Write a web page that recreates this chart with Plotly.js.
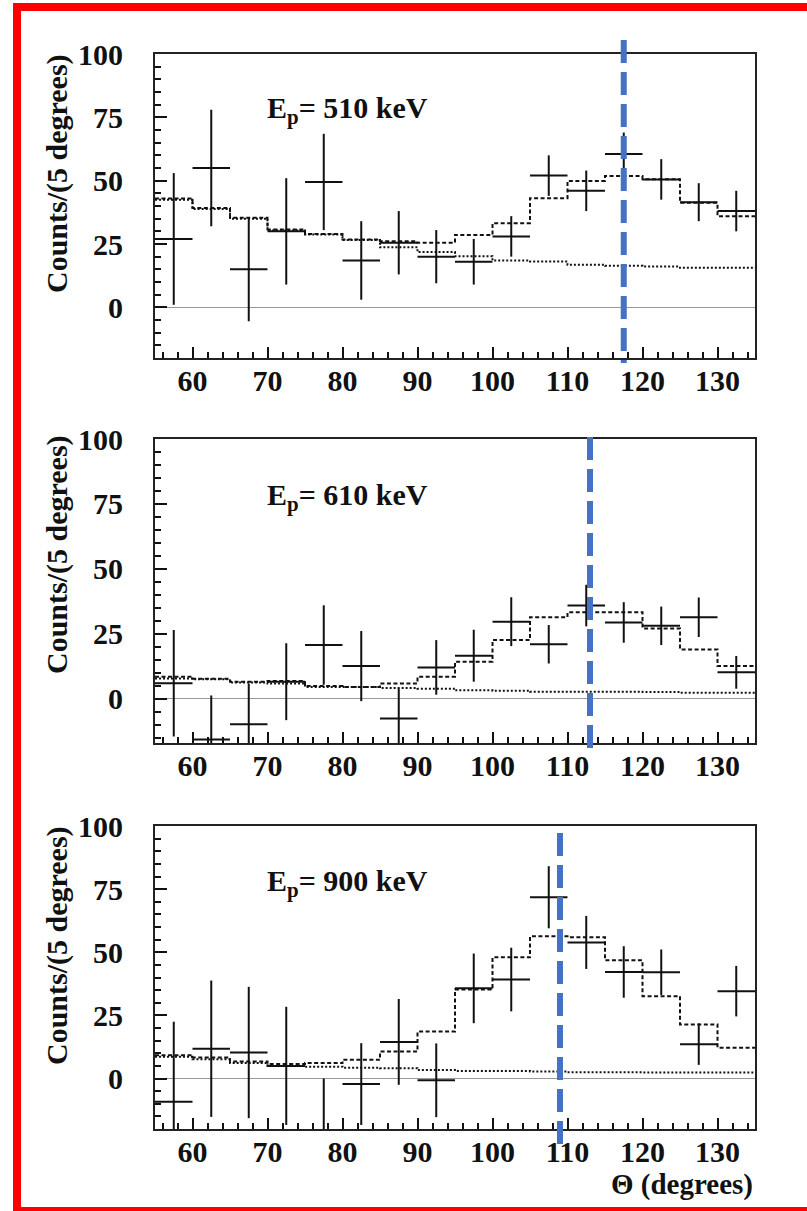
<!DOCTYPE html>
<html>
<head>
<meta charset="utf-8">
<script src="https://cdn.plot.ly/plotly-3.0.1.min.js"></script>
<style>
  html, body { margin: 0; padding: 0; background: #fff; }
  #chart { width: 807px; height: 1211px; }
</style>
</head>
<body>
<div id="chart"></div>
<script>
// ---- Data ----
const thetaCenters = [57.5, 62.5, 67.5, 72.5, 77.5, 82.5, 87.5, 92.5, 97.5, 102.5, 107.5, 112.5, 117.5, 122.5, 127.5, 132.5];
const binHalfWidth = 2.5;

const counts510 = [27, 55, 15, 30, 49.5, 18.5, 25.5, 20, 18, 28, 52, 46, 60.5, 50.5, 41.5, 38];
const err510    = [26, 23, 20.5, 21, 19, 15.5, 12.5, 10.5, 9, 8, 8, 8, 8.5, 8, 7.5, 8];
const total510  = [43, 39.2, 35.4, 30.7, 29, 26.8, 26.1, 25.5, 28.6, 33.2, 43.1, 49.9, 51.8, 50.6, 41.3, 36];
const bkg510    = [42.5, 38.8, 35, 30.3, 28.8, 26.6, 23.7, 21.8, 20.2, 18.5, 18.1, 16.8, 16.4, 16.1, 15.6, 15.6];

const counts610 = [6, -15.7, -9.8, 6.6, 20.7, 12.6, -7.6, 12.1, 16.6, 29.7, 21, 35.9, 29.4, 28.1, 31.4, 10.2];
const err610    = [20.5, 17, 15.7, 14.8, 15.3, 13.5, 11.6, 10.5, 10, 9.4, 7.4, 8, 7.8, 7.4, 7.6, 6.3];
const total610  = [8.5, 7.7, 6.6, 6.9, 4.9, 4.6, 5.9, 8.5, 14.3, 22.6, 31.4, 33.3, 33.3, 27.1, 19, 12.6];
const bkg610    = [7.8, 7.5, 6.3, 5.9, 4.6, 4.6, 4.2, 3.9, 3.3, 3.1, 2.7, 2.7, 2.7, 2.6, 2.3, 2.3];

const counts900 = [-9.2, 11.8, 10.3, 5, -22, -2.2, 14.5, -0.7, 35.7, 39.2, 71.8, 53.9, 42.2, 42.1, 13.6, 34.6];
const err900    = [31.7, 27, 26, 23.4, 22, 16.2, 17, 14.6, 13.8, 12.6, 12.3, 10.5, 10.2, 9, 8.2, 10];
const total900  = [9.2, 8.3, 6.7, 5.7, 6.1, 7.4, 10.7, 18.6, 35.3, 48, 56.3, 55.9, 46.8, 32.6, 21.4, 12.2];
const bkg900    = [8.6, 7.6, 6.1, 5, 4.7, 4.3, 4.1, 3.4, 3, 3, 2.8, 2.5, 2.5, 2.4, 2.4, 2.4];

const panelLabels = ['E<sub>p</sub>= 510 keV', 'E<sub>p</sub>= 610 keV', 'E<sub>p</sub>= 900 keV'];
const markerAngles = [117.5, 113, 109];
const yRanges = [[-20, 100.01], [-17, 100.01], [-20, 100.01]];
const yTitle = 'Counts/(5 degrees)';
const xTitle = 'Θ (degrees)';

// ---- Build ----
const FONT = 'Liberation Serif, Times New Roman, serif';
const INK = '#111';
const edges = thetaCenters.map(c => c - binHalfWidth).concat([thetaCenters[thetaCenters.length - 1] + binHalfWidth]);
const stepY = arr => arr.concat([arr[arr.length - 1]]);

const panels = [
  {counts: counts510, err: err510, total: total510, bkg: bkg510},
  {counts: counts610, err: err610, total: total610, bkg: bkg610},
  {counts: counts900, err: err900, total: total900, bkg: bkg900}
];

const traces = [];
panels.forEach((p, i) => {
  const xa = i === 0 ? 'x' : 'x' + (i + 1);
  const ya = i === 0 ? 'y' : 'y' + (i + 1);
  traces.push({
    x: edges, y: stepY(p.bkg), xaxis: xa, yaxis: ya, mode: 'lines',
    line: {shape: 'hv', color: INK, width: 2, dash: '2px,2px'}, hoverinfo: 'skip', showlegend: false
  });
  traces.push({
    x: edges, y: stepY(p.total), xaxis: xa, yaxis: ya, mode: 'lines',
    line: {shape: 'hv', color: INK, width: 2, dash: '4px,2.5px'}, hoverinfo: 'skip', showlegend: false
  });
  traces.push({
    x: thetaCenters, y: p.counts, xaxis: xa, yaxis: ya, mode: 'markers',
    marker: {size: 1, color: INK},
    error_x: {type: 'constant', value: binHalfWidth, thickness: 2, width: 0, color: INK},
    error_y: {type: 'data', array: p.err, thickness: 2, width: 0, color: INK},
    showlegend: false
  });
});

// Layout geometry (pixels -> paper)
const W = 807, H = 1211;
const mL = 155, mR = 52, mT = 54, mB = 82;
const plotW = W - mL - mR, plotH = H - mT - mB;
const py = pix => (H - mB - pix) / plotH;   // pixel row -> paper y
const px = pix => (pix - mL) / plotW;       // pixel col -> paper x

const panelPix = [[54, 358], [439, 743], [826, 1129]];
const bluePix = [[40, 363], [437, 750], [833, 1145]];
const titleCenterPix = [174, 555, 946];
const labelPix = [110, 497, 883];

const layout = {
  width: W, height: H,
  margin: {l: mL, r: mR, t: mT, b: mB, pad: 0},
  paper_bgcolor: '#fff', plot_bgcolor: '#fff',
  showlegend: false,
  font: {family: FONT, color: INK, size: 30, weight: 'bold'},
  shapes: [], annotations: []
};

panelPix.forEach((pp, i) => {
  const suf = i === 0 ? '' : String(i + 1);
  layout['xaxis' + suf] = {
    domain: [0, 1], anchor: 'y' + suf, range: [55, 135],
    tick0: 0, dtick: 10, ticks: 'inside', ticklen: 11, tickwidth: 2, tickcolor: INK,
    minor: {tick0: 0, dtick: 2, ticks: 'inside', ticklen: 6, tickwidth: 2, tickcolor: INK, showgrid: false},
    showline: true, mirror: true, linecolor: '#222', linewidth: 2,
    showgrid: false, zeroline: false,
    tickfont: {family: FONT, size: 30, weight: 'bold', color: INK},
    ticklabelstandoff: -5
  };
  layout['yaxis' + suf] = {
    domain: [py(pp[1]), py(pp[0])], anchor: 'x' + suf, range: yRanges[i],
    tick0: 0, dtick: 25, ticks: 'inside', ticklen: 12, tickwidth: 2, tickcolor: INK,
    minor: {tick0: 0, dtick: 5, ticks: 'inside', ticklen: 6, tickwidth: 2, tickcolor: INK, showgrid: false},
    showline: true, mirror: true, linecolor: '#222', linewidth: 2,
    showgrid: false, zeroline: true, zerolinecolor: '#999', zerolinewidth: 1,
    tickfont: {family: FONT, size: 30, weight: 'bold', color: INK},
    ticklabelstandoff: 24
  };
  // blue dashed marker line
  layout.shapes.push({
    type: 'line', xref: 'x' + suf, yref: 'paper',
    x0: markerAngles[i], x1: markerAngles[i], y0: py(bluePix[i][0]), y1: py(bluePix[i][1]),
    line: {color: '#4472C4', width: 6, dash: '23px,9px'}, layer: 'above'
  });
  // y-axis title
  layout.annotations.push({
    xref: 'paper', yref: 'paper', x: px(57), y: py(titleCenterPix[i]),
    xanchor: 'center', yanchor: 'middle', textangle: -90, showarrow: false,
    text: yTitle, font: {family: FONT, size: 30, weight: 'bold', color: INK}
  });
  // energy label
  layout.annotations.push({
    xref: 'x' + suf, yref: 'paper', x: 69.7, y: py(labelPix[i]),
    xanchor: 'left', yanchor: 'middle', showarrow: false,
    text: panelLabels[i], font: {family: FONT, size: 30, weight: 'bold', color: INK}
  });
});

// x-axis title (bottom panel only)
layout.annotations.push({
  xref: 'paper', yref: 'paper', x: 1, y: py(1184),
  xanchor: 'right', yanchor: 'middle', showarrow: false,
  text: xTitle, font: {family: FONT, size: 29, weight: 'bold', color: INK}
});

// red frame around the figure
const red = '#ff0000';
layout.shapes.push(
  {type: 'rect', xref: 'paper', yref: 'paper', x0: px(13), x1: px(21), y0: py(1211), y1: py(3), fillcolor: red, line: {width: 0}, layer: 'above'},
  {type: 'rect', xref: 'paper', yref: 'paper', x0: px(13), x1: px(807), y0: py(11), y1: py(3), fillcolor: red, line: {width: 0}, layer: 'above'},
  {type: 'rect', xref: 'paper', yref: 'paper', x0: px(13), x1: px(807), y0: py(1211), y1: py(1207), fillcolor: red, line: {width: 0}, layer: 'above'}
);

Plotly.newPlot('chart', traces, layout, {staticPlot: true, displayModeBar: false});
</script>
</body>
</html>
